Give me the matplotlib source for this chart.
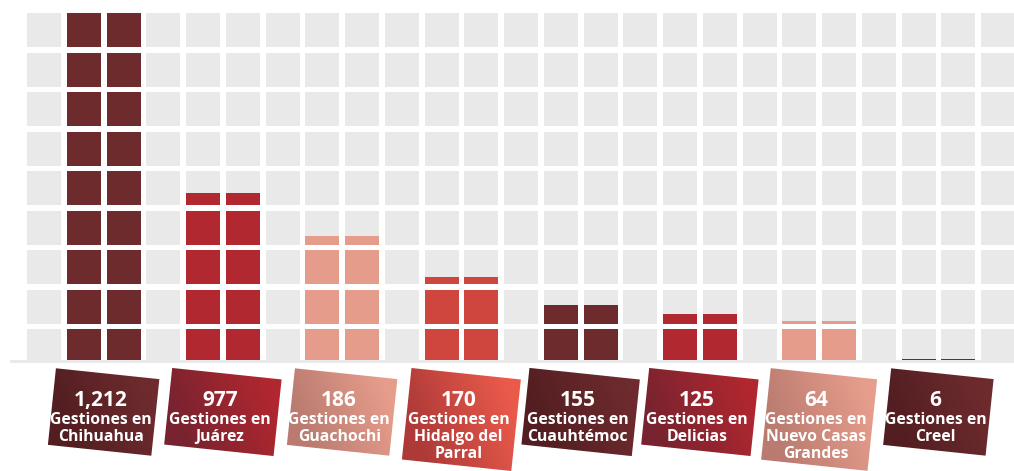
import numpy as np
import matplotlib
matplotlib.use("Agg")
import matplotlib.pyplot as plt
from matplotlib.patches import Polygon, Rectangle
from matplotlib.colors import LinearSegmentedColormap

# ---------------- data ----------------
cities = ["Chihuahua", "Juárez", "Guachochi", "Hidalgo del\nParral",
          "Cuauhtémoc", "Delicias", "Nuevo Casas\nGrandes", "Creel"]
gestiones = [1212, 977, 186, 170, 155, 125, 64, 6]
# bar heights as drawn in the picture (decorative scale, grid units: 1 row = 39.5)
bar_heights = [360, 167, 124, 83, 55, 46, 39, 1.4]

# ---------------- style ----------------
bar_colors = ["#6d2b2e", "#b22830", "#e59c8a", "#cf463e",
              "#6d2b2e", "#b22830", "#e59c8a", "#6d2b2e"]
grad_left = ["#521e21", "#78232f", "#ba7b70", "#ae3a38",
             "#521e21", "#78232f", "#ba7b70", "#521e21"]
grad_right = ["#6e2b2e", "#b1272f", "#e69d8b", "#ea5a4b",
              "#6e2b2e", "#b1272f", "#e69d8b", "#6e2b2e"]
box_widths = [104, 110, 103, 110, 111, 110, 107, 103]
tile_gray = "#e8e9e8"

W, H = 1014, 471
fig = plt.figure(figsize=(W / 100, H / 100), dpi=100)
fig.patch.set_facecolor("white")

# main grid axes (pixel 10..1014 horizontally, 13..363 vertically)
col_period = 39.75
tile_w = 34 / col_period
x_left = (10 - 27) / col_period
x_right = (1014 - 27) / col_period
ax = fig.add_axes([10 / W, (H - 363) / H, 1004 / W, 350 / H])
ax.set_xlim(x_left, x_right)
ax.set_ylim(-3, 347)
ax.axis("off")

# tile background & baseline band
ax.add_patch(Rectangle((0, 0), x_right, 347, color=tile_gray, zorder=1, lw=0))
ax.add_patch(Rectangle((x_left, -3), x_right - x_left, 3, color=tile_gray, zorder=1, lw=0))

# bars: two columns per city
for i, (h, c) in enumerate(zip(bar_heights, bar_colors)):
    ax.bar([3 * i + 1, 3 * i + 2], [h, h], width=tile_w, align="edge",
           color=c, zorder=2, linewidth=0)

# white gaps making the tiles
for k in range(24):
    ax.add_patch(Rectangle((k + tile_w, 0), 1 - tile_w, 347, color="white",
                           zorder=3, lw=0))
for j in range(8):
    ytop = 313 - 39.5 * j
    ax.add_patch(Rectangle((0, ytop - 5.5), x_right, 5.5, color="white",
                           zorder=3, lw=0))

# ---------------- label boxes (overlay in pixel coords) ----------------
ax2 = fig.add_axes([0, 0, 1, 1], zorder=5)
ax2.set_xlim(0, W)
ax2.set_ylim(H, 0)
ax2.axis("off")

to_px = lambda pt: ax2.transData.inverted().transform(ax.transData.transform(pt))
theta = np.deg2rad(6.0)
ct, st = np.cos(theta), np.sin(theta)

font = "Open Sans"
for i, city in enumerate(cities):
    cx, _ = to_px((3 * i + 1 + (1 + tile_w) / 2, 0))
    lines = ["Gestiones en"] + city.split("\n")
    bw = box_widths[i]
    bh = 77 if len(lines) == 2 else 92
    top_mid = 373.5
    cy = top_mid + bh / 2
    local = np.array([[-bw / 2, -bh / 2], [bw / 2, -bh / 2],
                      [bw / 2, bh / 2], [-bw / 2, bh / 2]])
    pts = np.column_stack([local[:, 0] * ct - local[:, 1] * st + cx,
                           local[:, 0] * st + local[:, 1] * ct + cy])
    poly = Polygon(pts, closed=True, facecolor="none", edgecolor="none")
    ax2.add_patch(poly)
    x0, x1 = pts[:, 0].min(), pts[:, 0].max()
    y0, y1 = pts[:, 1].min(), pts[:, 1].max()
    gx = np.linspace(0, 1, 120)
    gy = np.linspace(0, 1, 120)
    GX, GY = np.meshgrid(gx, gy)
    T = np.clip(GX * 1.1 - (GY - 0.0) * 0.35 + 0.1, 0, 1)
    cmap = LinearSegmentedColormap.from_list("g%d" % i, [grad_left[i], grad_right[i]])
    im = ax2.imshow(T, cmap=cmap, extent=(x0, x1, y1, y0), origin="upper",
                    aspect="auto", zorder=6, interpolation="bilinear", vmin=0, vmax=1)
    im.set_clip_path(poly)

    tx = cx - 3
    ax2.text(tx, 406, f"{gestiones[i]:,}", ha="center", va="baseline",
             color="white", fontsize=15, fontweight="bold", family=font, zorder=7)
    for li, ln in enumerate(lines):
        ax2.text(tx, 424 + 17 * li, ln, ha="center", va="baseline",
                 color="white", fontsize=11.3, fontweight="bold", family=font, zorder=7)

ax2.set_xlim(0, W)
ax2.set_ylim(H, 0)

fig.savefig("out.png", dpi=100, facecolor="white")
